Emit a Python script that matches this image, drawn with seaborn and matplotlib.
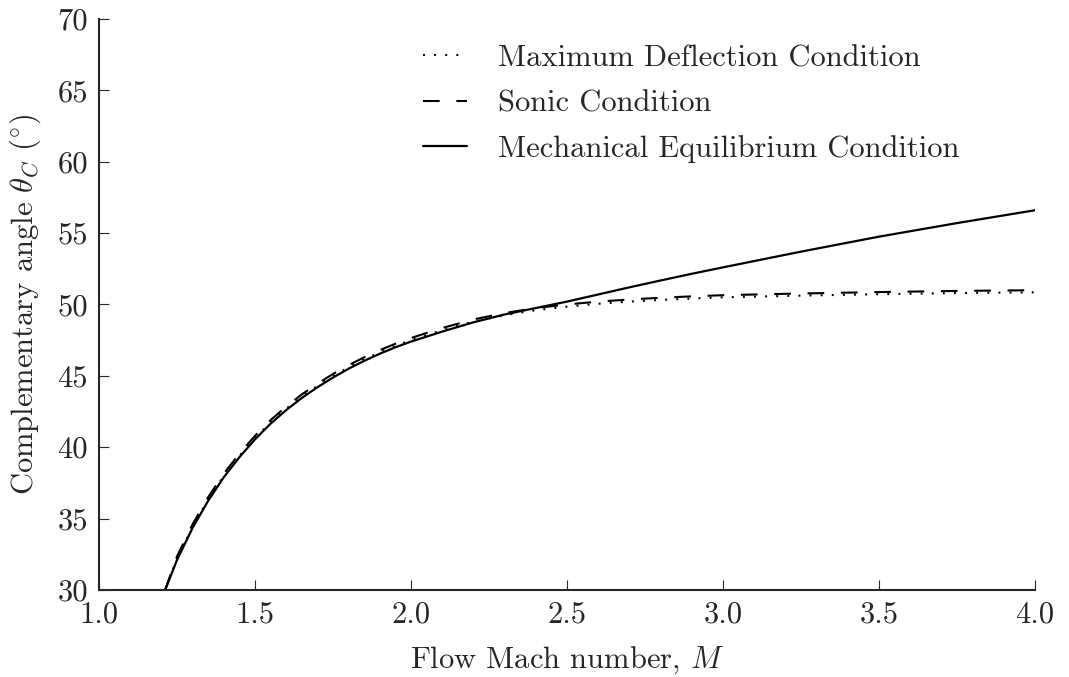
import matplotlib
matplotlib.use("Agg")
import matplotlib.pyplot as plt
import numpy as np
import seaborn as sns

# values
mach = [1.212, 1.25, 1.30, 1.35, 1.40, 1.45, 1.50, 1.55, 1.60, 1.65, 1.70, 1.75,
        1.80, 1.85, 1.90, 1.95, 2.00, 2.10, 2.20, 2.30, 2.40, 2.50, 2.60, 2.70,
        2.80, 2.90, 3.00, 3.25, 3.50, 3.75, 4.00]
theta_eq = [30.0, 32.1, 34.35, 36.25, 37.9, 39.3, 40.55, 41.65, 42.6, 43.45, 44.2, 44.88,
            45.5, 46.05, 46.55, 47.0, 47.4, 48.1, 48.75, 49.3, 49.75, 50.2, 50.7, 51.2,
            51.68, 52.15, 52.6, 53.7, 54.75, 55.7, 56.6]
theta_max = [30.0, 32.2, 34.45, 36.35, 38.0, 39.4, 40.65, 41.75, 42.7, 43.55, 44.3, 44.98,
             45.6, 46.15, 46.65, 47.1, 47.5, 48.2, 48.8, 49.25, 49.6, 49.85, 50.05, 50.2,
             50.32, 50.42, 50.5, 50.62, 50.72, 50.8, 50.85]
theta_sonic = [30.0, 32.35, 34.6, 36.5, 38.15, 39.55, 40.8, 41.9, 42.85, 43.7, 44.45, 45.13,
               45.75, 46.3, 46.8, 47.25, 47.65, 48.35, 48.95, 49.4, 49.75, 50.0, 50.2, 50.35,
               50.47, 50.57, 50.65, 50.77, 50.87, 50.95, 51.0]

labels = ["Maximum Deflection Condition", "Sonic Condition", "Mechanical Equilibrium Condition"]

sns.set_style("ticks")
plt.rcParams["font.family"] = ["cmr10", "DejaVu Serif"]
plt.rcParams["mathtext.fontset"] = "cm"
plt.rcParams["axes.formatter.use_mathtext"] = True
plt.rcParams["axes.unicode_minus"] = False
plt.rcParams["lines.scale_dashes"] = False
plt.rcParams["font.size"] = 22

fig = plt.figure(figsize=(10.69, 6.77), dpi=100)
ax = fig.add_axes([0.0926, 0.1285, 0.8755, 0.8435])

sns.lineplot(x=mach, y=theta_max, ax=ax, color="k", lw=1.5,
             linestyle=(0, (1.4, 6.6)), sort=False, estimator=None)
sns.lineplot(x=mach, y=theta_sonic, ax=ax, color="k", lw=1.5,
             linestyle=(0, (12, 12)), sort=False, estimator=None)
sns.lineplot(x=mach, y=theta_eq, ax=ax, color="k", lw=1.6,
             linestyle="-", sort=False, estimator=None)

ax.set_xlim(1.0, 4.0)
ax.set_ylim(30, 70)
ax.set_xticks(np.arange(1.0, 4.01, 0.5))
ax.set_yticks(np.arange(30, 71, 5))
ax.set_xticklabels(["%.1f" % v for v in np.arange(1.0, 4.01, 0.5)])
ax.set_yticklabels(["%d" % v for v in np.arange(30, 71, 5)])
ax.tick_params(direction="in", length=7, width=0.8, pad=8, labelsize=22,
               top=False, right=False)
sns.despine(ax=ax)
for s in ["left", "bottom"]:
    ax.spines[s].set_linewidth(1.5)

ax.set_xlabel(r"Flow Mach number, $M$", fontsize=22, labelpad=12)
ax.set_ylabel(r"Complementary angle $\theta_C$ $(^{\circ})$", fontsize=22, labelpad=10)

ax.legend(ax.get_lines(), labels, loc="upper left", bbox_to_anchor=(0.346, 0.955),
          frameon=False, fontsize=22, handlelength=1.45, handletextpad=1.0,
          labelspacing=0.58, borderpad=0, borderaxespad=0)

fig.savefig("out.png", dpi=100)
